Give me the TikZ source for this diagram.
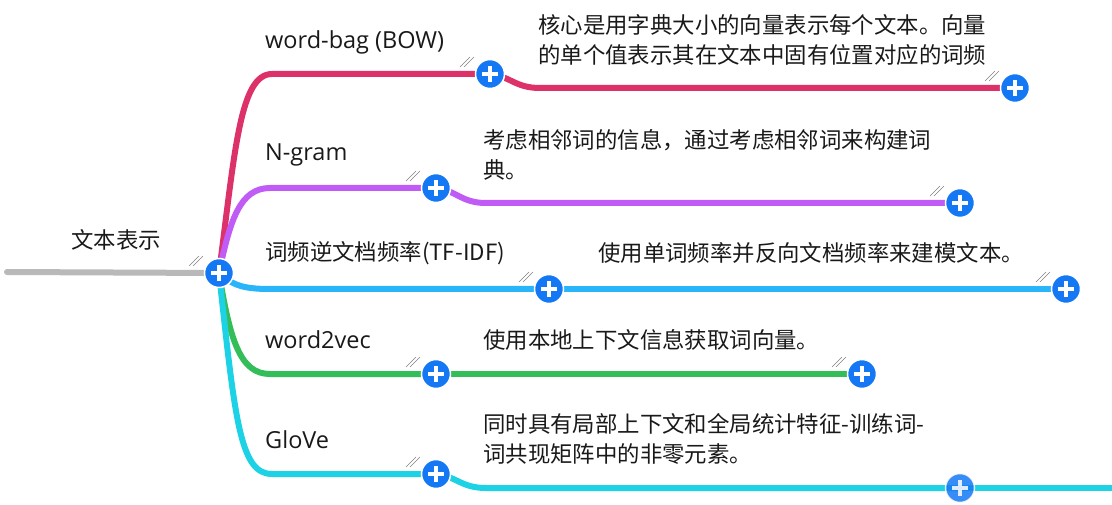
\documentclass[tikz,border=0pt]{standalone}
\usepackage{fontspec}
\setmainfont{Open Sans}
\newfontfamily\cjk{Noto Sans CJK SC}
\pgfdeclarelayer{bg}
\pgfsetlayers{bg,main}
\definecolor{cPink}{RGB}{220,50,105}
\definecolor{cPurple}{RGB}{192,92,245}
\definecolor{cBlue}{RGB}{42,180,250}
\definecolor{cGreen}{RGB}{52,190,90}
\definecolor{cCyan}{RGB}{30,210,230}
\definecolor{cGray}{RGB}{185,185,185}
\definecolor{btnblue}{RGB}{20,120,245}
\definecolor{txt}{RGB}{25,25,25}
\newcommand\grip[1]{%
  \draw[gripline] ([shift={(-30,-7)}]#1.center) -- ++(10,-10);
  \draw[gripline] ([shift={(-26,-7)}]#1.center) -- ++(10,-10);}
\begin{document}
\begin{tikzpicture}[x=1pt,y=-1pt,
  plusbtn/.style={circle,fill=btnblue,draw=white,line width=1.5pt,minimum size=29pt,inner sep=0pt,
    path picture={\draw[white,line width=4.5pt]
      ([xshift=-8pt]path picture bounding box.center) -- ([xshift=8pt]path picture bounding box.center)
      ([yshift=-8pt]path picture bounding box.center) -- ([yshift=8pt]path picture bounding box.center);}},
  branch/.style={line width=6pt,line cap=round},
  lbl/.style={anchor=west,inner sep=0pt,text=txt,font=\fontsize{23.5}{30}\selectfont},
  desc/.style={anchor=west,inner sep=0pt,align=left,text=txt,font=\cjk\fontsize{22.4}{30}\selectfont},
  gripline/.style={draw=gray,line width=0.6pt}]
\useasboundingbox (0,0) rectangle (1112,505);

% buttons
\node[plusbtn] (root) at (219,273) {};
\node[plusbtn] (b1) at (490,74) {};
\node[plusbtn] (e1) at (1015,88) {};
\node[plusbtn] (b2) at (436,188) {};
\node[plusbtn] (e2) at (960,203) {};
\node[plusbtn] (b3) at (549,289) {};
\node[plusbtn] (e3) at (1066,289) {};
\node[plusbtn] (b4) at (436,374) {};
\node[plusbtn] (e4) at (862,374) {};
\node[plusbtn] (b5) at (436,474) {};
\node[plusbtn,opacity=0.85] (e5) at (960,488) {};
\coordinate (start) at (7,272);
\coordinate (fade) at (1112,488);

% labels
\node[desc,anchor=center] (rootlbl) at (116,240) {文本表示};
\node[lbl] (t1) at (265,42) {word-bag (BOW)};
\node[lbl] (t2) at (265,155) {N-gram};
\node[lbl,font=\cjk\fontsize{22.4}{30}\selectfont] (t3) at (265,253) {词频逆文档频率(TF-IDF)};
\node[lbl] (t4) at (265,340) {word2vec};
\node[lbl] (t5) at (265,440) {GloVe};

\node[desc] (d1) at (538,40) {核心是用字典大小的向量表示每个文本。向量\\的单个值表示其在文本中固有位置对应的词频};
\node[desc] (d2) at (483,155) {考虑相邻词的信息，通过考虑相邻词来构建词\\典。};
\node[desc] (d3) at (598,253) {使用单词频率并反向文档频率来建模文本。};
\node[desc] (d4) at (483,340) {使用本地上下文信息获取词向量。};
\node[desc] (d5) at (483,439) {同时具有局部上下文和全局统计特征-训练词-\\词共现矩阵中的非零元素。};

\begin{pgfonlayer}{bg}
\draw[branch,cGray] (start) -- (root.center);
\draw[branch,cPink] (root.center) .. controls (235,150) and (240,74) .. (272,74) -- (b1.center);
\draw[branch,cPink] (b1.center) .. controls (510,76) and (515,88) .. (540,88) -- (e1.center);
\draw[branch,cPurple] (root.center) .. controls (230,220) and (240,188) .. (270,188) -- (b2.center);
\draw[branch,cPurple] (b2.center) .. controls (456,190) and (461,203) .. (486,203) -- (e2.center);
\draw[branch,cBlue] (root.center) .. controls (232,284) and (240,289) .. (270,289) -- (b3.center);
\draw[branch,cBlue] (b3.center) -- (e3.center);
\draw[branch,cGreen] (root.center) .. controls (230,340) and (240,374) .. (270,374) -- (b4.center);
\draw[branch,cGreen] (b4.center) -- (e4.center);
\draw[branch,cCyan] (root.center) .. controls (235,420) and (240,474) .. (272,474) -- (b5.center);
\draw[branch,cCyan] (b5.center) .. controls (456,476) and (461,488) .. (486,488) -- (e5.center);
\draw[line width=6pt,cCyan] (e5.center) -- (fade);
\grip{root}
\grip{b1}\grip{e1}
\grip{b2}\grip{e2}
\grip{b3}\grip{e3}
\grip{b4}\grip{e4}
\grip{b5}
\end{pgfonlayer}
\end{tikzpicture}
\end{document}
